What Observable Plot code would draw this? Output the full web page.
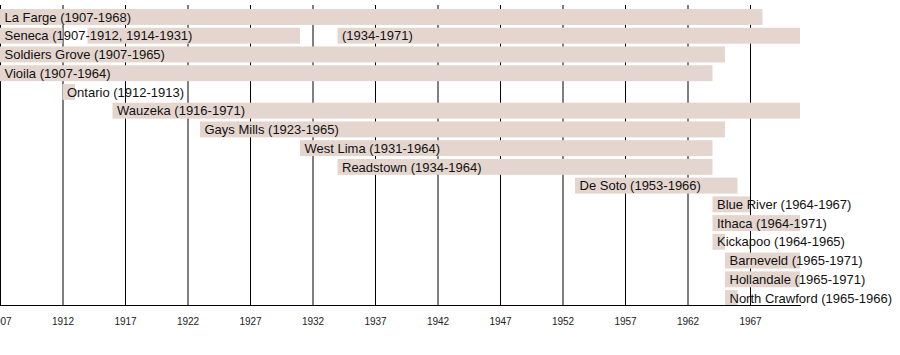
<!DOCTYPE html>
<html>
<head>
<meta charset="utf-8">
<script src="https://cdn.jsdelivr.net/npm/d3@7"></script>
<script src="https://cdn.jsdelivr.net/npm/@observablehq/plot@0.6"></script>
<style>
  html, body { margin: 0; padding: 0; background: #fff; }
  svg { font-family: "Liberation Sans", Arial, sans-serif; }
</style>
</head>
<body>
<div id="chart"></div>
<script>
// Rows (top to bottom)
const towns = ["La Farge", "Seneca", "Soldiers Grove", "Vioila", "Ontario", "Wauzeka", "Gays Mills",
  "West Lima", "Readstown", "De Soto", "Blue River", "Ithaca", "Kickapoo", "Barneveld", "Hollandale", "North Crawford"];

// Segments (one bar each)
const segTown  = ["La Farge", "Seneca", "Seneca", "Seneca", "Soldiers Grove", "Vioila", "Ontario", "Wauzeka", "Gays Mills",
  "West Lima", "Readstown", "De Soto", "Blue River", "Ithaca", "Kickapoo", "Barneveld", "Hollandale", "North Crawford"];
const segStart = [1907, 1907, 1914, 1934, 1907, 1907, 1912, 1916, 1923, 1931, 1934, 1953, 1964, 1964, 1964, 1965, 1965, 1965];
const segEnd   = [1968, 1912, 1931, 1971, 1965, 1964, 1913, 1971, 1965, 1964, 1964, 1966, 1967, 1971, 1965, 1971, 1971, 1966];
const segLabel = ["La Farge (1907-1968)", "Seneca (1907-1912, 1914-1931)", "", "(1934-1971)", "Soldiers Grove (1907-1965)",
  "Vioila (1907-1964)", "Ontario (1912-1913)", "Wauzeka (1916-1971)", "Gays Mills (1923-1965)", "West Lima (1931-1964)",
  "Readstown (1934-1964)", "De Soto (1953-1966)", "Blue River (1964-1967)", "Ithaca (1964-1971)", "Kickapoo (1964-1965)",
  "Barneveld (1965-1971)", "Hollandale (1965-1971)", "North Crawford (1965-1966)"];

const tickYears = d3.range(1907, 1968, 5);

const segs = segTown.map((t, i) => ({town: t, start: segStart[i], end: segEnd[i], label: segLabel[i]}));

const chart = Plot.plot({
  width: 900,
  height: 355,
  marginLeft: 0,
  marginRight: 100,
  marginTop: 5,
  marginBottom: 50,
  x: {domain: [1907, 1971]},
  y: {type: "band", domain: towns, range: [7.6, 307.4], paddingInner: 0.15, paddingOuter: 0.075, round: false, axis: null},
  marks: [
    Plot.gridX(tickYears, {stroke: "#000", strokeOpacity: 1, strokeWidth: 1}),
    Plot.barX(segs, {x1: "start", x2: "end", y: "town", fill: "#e4d5cf"}),
    Plot.frame({anchor: "bottom", stroke: "#000"}),
    Plot.axisX({ticks: tickYears, tickSize: 0, tickPadding: 12, tickFormat: d => String(d), fontSize: 10, fill: "#222"}),
    Plot.text(segs.filter(d => d.label), {x: "start", y: "town", text: "label", dx: 4, textAnchor: "start", fontSize: 13, fill: "#111"})
  ]
});
document.getElementById("chart").appendChild(chart);
</script>
</body>
</html>
